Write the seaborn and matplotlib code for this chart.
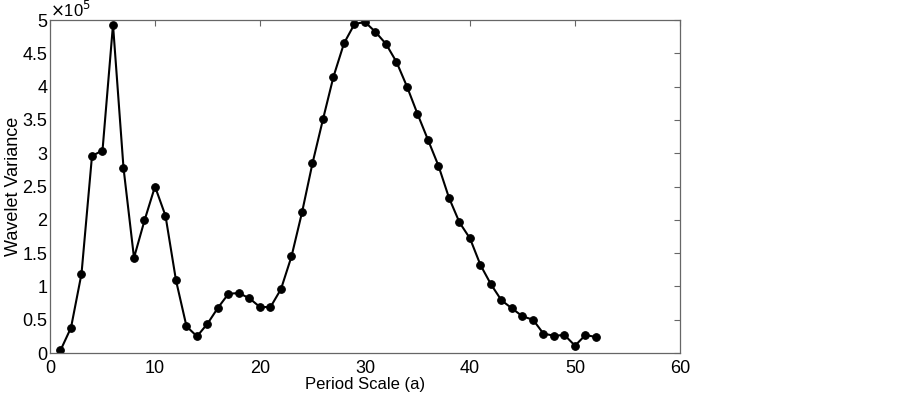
import numpy as np
import pandas as pd
import matplotlib.pyplot as plt
import seaborn as sns

# period scale (a) and wavelet variance (x 1e5)
period = list(range(1, 53))
variance = [0.04, 0.38, 1.19, 2.96, 3.04, 4.93, 2.78, 1.43, 1.99, 2.50,
            2.06, 1.09, 0.40, 0.25, 0.44, 0.68, 0.89, 0.90, 0.82, 0.69,
            0.69, 0.96, 1.45, 2.11, 2.85, 3.51, 4.15, 4.65, 4.94, 4.97,
            4.82, 4.64, 4.37, 4.00, 3.59, 3.20, 2.81, 2.33, 1.96, 1.72,
            1.32, 1.03, 0.79, 0.67, 0.55, 0.50, 0.29, 0.26, 0.27, 0.11,
            0.27, 0.24]
ytick_labels = ['0', '0.5', '1', '1.5', '2', '2.5', '3', '3.5', '4', '4.5', '5']

df = pd.DataFrame({'period': period, 'variance': np.array(variance) * 1e5})

sns.set_style('white')
plt.rcParams['font.family'] = ['Liberation Sans', 'DejaVu Sans']
plt.rcParams['text.color'] = 'black'
plt.rcParams['xtick.color'] = 'black'
plt.rcParams['ytick.color'] = 'black'
plt.rcParams['axes.labelcolor'] = 'black'
plt.rcParams['xtick.direction'] = 'in'
plt.rcParams['ytick.direction'] = 'in'

fig = plt.figure(figsize=(9.03, 3.95), dpi=100)
ax = fig.add_axes([50 / 903, 1 - 353 / 395, 630 / 903, 333 / 395])

sns.lineplot(data=df, x='period', y='variance', ax=ax, color='black',
             linewidth=1.5, marker='o', markersize=5.5, markeredgecolor='black')

ax.set_xlim(0, 60)
ax.set_ylim(0, 5e5)
ax.set_xticks(range(0, 61, 10))
ax.set_yticks(np.arange(0, 5.01e5, 0.5e5))
ax.set_yticklabels(ytick_labels)
ax.tick_params(axis='both', labelsize=13, length=4, width=0.8,
               top=True, right=True)
ax.tick_params(axis='y', pad=2)
ax.tick_params(axis='x', pad=5)
ax.tick_params(which='both', color='#666666')
for s in ax.spines.values():
    s.set_color('#666666')
    s.set_linewidth(0.9)

ax.set_xlabel('Period Scale (a)', fontsize=12, labelpad=0)
ax.set_ylabel('Wavelet Variance', fontsize=13, labelpad=0)
ax.text(0.0, 1.0, r'$\times$10$^5$', transform=ax.transAxes, fontsize=12,
        ha='left', va='bottom')

fig.savefig('out.png', dpi=100)
